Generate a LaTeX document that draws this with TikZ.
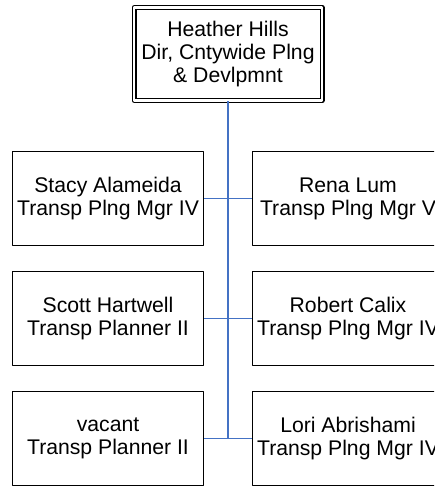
\documentclass[tikz,border=0pt]{standalone}
\usepackage{fontspec}
\setmainfont{Liberation Sans}
\definecolor{linkblue}{RGB}{68,114,196}
\tikzset{
  staffbox/.style={draw, line width=1.3pt, minimum width=191pt, minimum height=94pt,
    inner sep=0pt, align=center, font=\fontsize{21.2}{23}\selectfont},
  headbox/.style={draw, double, line width=1.2pt, double distance=2.6pt,
    minimum width=188pt, minimum height=93pt, inner sep=0pt, align=center,
    font=\fontsize{21.2}{23}\selectfont},
  trunk/.style={draw=linkblue, line width=2pt},
  branch/.style={draw=linkblue, line width=1.3pt}
}

\begin{document}
\begin{tikzpicture}[x=1pt,y=-1pt,line join=round]
  \useasboundingbox (0,0) rectangle (434,486);
  \clip (0,0) rectangle (434,486);
  \node[headbox] (hills) at (228,54) {Heather Hills\\Dir, Cntywide Plng\\\& Devlpmnt};
  \node[staffbox] (alameida) at (108,198.5) {Stacy Alameida\\Transp Plng Mgr IV};
  \node[staffbox] (lum) at (348,198.5) {Rena Lum\\Transp Plng Mgr V};
  \node[staffbox] (hartwell) at (108,318.5) {Scott Hartwell\\Transp Planner II};
  \node[staffbox] (calix) at (348,318.5) {Robert Calix\\Transp Plng Mgr IV};
  \node[staffbox] (vacant) at (108,438.5) {vacant\\Transp Planner II};
  \node[staffbox] (abrishami) at (348,438.5) {Lori Abrishami\\Transp Plng Mgr IV};
  \coordinate (trunkend) at (hills.south |- vacant.east);
  \draw[trunk] (hills.south) -- (trunkend);
  \draw[branch] (alameida.east) -- (lum.west);
  \draw[branch] (hartwell.east) -- (calix.west);
  \draw[branch] (vacant.east) -- (abrishami.west);
\end{tikzpicture}
\end{document}
